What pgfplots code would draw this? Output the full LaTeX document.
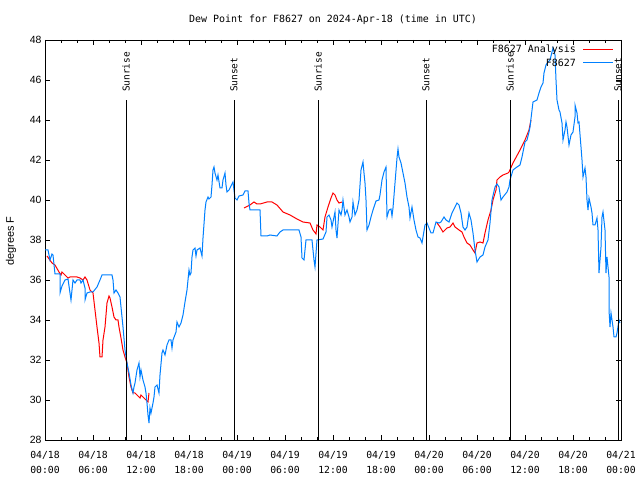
\documentclass[border=0pt]{standalone}
\usepackage{pgfplots}
\pgfplotsset{compat=1.18}
\usepackage{fontspec}
\newfontfamily\monofont{DejaVu Sans Mono}
\newfontfamily\sansfont{Liberation Sans}
\definecolor{obsblue}{RGB}{0,128,255}
\begin{document}
\begin{tikzpicture}
\useasboundingbox (-45bp,-40bp) rectangle (595bp,440bp);
\begin{axis}[
  scale only axis, width=576bp, height=400bp,
  xmin=0, xmax=72, ymin=28, ymax=48,
  xtick={0,6,...,72},
  xticklabels={04/18\\00:00,04/18\\06:00,04/18\\12:00,04/18\\18:00,04/19\\00:00,04/19\\06:00,04/19\\12:00,04/19\\18:00,04/20\\00:00,04/20\\06:00,04/20\\12:00,04/20\\18:00,04/21\\00:00},
  ytick={28,30,...,48},
  minor x tick num=2,
  tick align=inside,
  major tick length=5bp, minor tick length=3bp,
  axis line style={line width=0.8bp},
  tick style={black, line width=0.8bp},
  xticklabel style={align=center, font=\monofont\fontsize{9.8}{14.5}\selectfont, yshift=-8bp},
  yticklabel style={font=\sansfont\fontsize{10.5}{12}\selectfont},
  /pgf/number format/assume math mode=true,
  unbounded coords=jump,
  clip mode=individual,
]
\addplot[red, line width=1bp] coordinates {
(0.25,37.2) (0.875,36.85) (1.25,36.75) (1.75,36.4) (2.0,36.25) (2.125,36.4) (2.5,36.25) (2.875,36.1) (3.125,36.15) (4.0,36.15) (4.375,36.1) (4.75,36.0) (5.0,36.15) (5.25,36.0) (5.625,35.5) (6.0,35.35) (6.25,34.5) (6.5,33.65) (6.75,32.85) (6.875,32.15) (7.125,32.15) (7.25,33.0) (7.5,33.65) (7.75,34.85) (8.0,35.2) (8.125,35.1) (8.375,34.65) (8.625,34.15) (8.875,34.0) (9.125,34.0) (9.25,33.65) (9.5,33.1) (9.75,32.5) (10.0,32.15) (10.25,31.85) (10.5,31.15) (10.75,30.65) (11.0,30.35) (11.25,30.35) (11.5,30.25) (11.75,30.15) (11.875,30.1) (12.0,30.25) (12.25,30.15) (12.625,30.0) (12.875,29.9) (13.0,30.35)
(18.0,nan)
(24.875,39.6) (25.625,39.75) (26.125,39.9) (26.5,39.8) (26.875,39.8) (27.75,39.9) (28.375,39.9) (29.0,39.75) (29.75,39.4) (30.625,39.25) (31.5,39.05) (32.25,38.9) (33.125,38.85) (33.5,38.5) (33.875,38.3) (34.0,38.75) (34.375,38.65) (34.75,38.5) (35.0,39.15) (35.375,39.65) (35.75,40.1) (36.0,40.35) (36.25,40.25) (36.5,40.0) (36.75,39.85) (37.125,39.9)
(42.0,nan)
(49.0,38.85) (49.375,38.65) (49.75,38.4) (50.25,38.6) (50.625,38.65) (51.0,38.85) (51.25,38.65) (51.75,38.5) (52.125,38.4) (52.375,38.15) (52.75,37.85) (53.125,37.75) (53.5,37.5) (53.75,37.35) (54.0,37.85) (54.375,37.9) (54.75,37.85) (55.0,38.35) (55.375,39.0) (55.75,39.5) (56.0,40.0) (56.375,40.5) (56.5,41.0) (56.875,41.15) (57.25,41.25) (57.875,41.35) (58.0,41.4) (58.5,41.85) (59.375,42.5) (60.0,43.0) (60.5,43.5) (60.75,44.0)
};
\addplot[obsblue, line width=1bp] coordinates {
(0,37.5) (0.375,37.5) (0.625,37.0) (0.875,37.3) (1.0,37.25) (1.25,36.3) (1.875,36.3) (1.875,35.35) (2.125,35.7) (2.5,36.0) (2.875,36.05) (3.125,35.35) (3.25,35.0) (3.375,35.5) (3.5,36.0) (3.75,35.85) (4.0,36.0) (4.375,36.0) (4.5,35.85) (4.75,36.0) (5.0,35.6) (5.0,35.0) (5.25,35.35) (5.625,35.4) (6.0,35.4) (6.5,35.65) (6.875,36.0) (7.125,36.25) (7.75,36.25) (8.375,36.25) (8.5,36.0) (8.625,35.35) (8.875,35.5) (9.125,35.35) (9.375,35.15) (9.75,33.65) (10.0,32.5) (10.25,31.85) (10.5,31.35) (10.75,30.75) (11.0,30.35) (11.125,30.65) (11.25,30.85) (11.5,31.5) (11.75,31.85) (11.875,31.15) (12.0,31.5) (12.25,31.0) (12.5,30.65) (12.625,30.35) (12.75,29.85) (12.875,29.25) (13.0,28.85) (13.125,29.6) (13.25,29.35) (13.5,29.85) (13.625,30.15) (13.75,30.65) (14.0,30.75) (14.25,30.35) (14.375,31.25) (14.625,32.35) (14.75,32.5) (15.0,32.25) (15.25,32.75) (15.5,33.0) (15.75,33.0) (15.875,32.6) (16.0,33.0) (16.375,33.4) (16.5,33.9) (16.75,33.65) (17.0,33.85) (17.25,34.25) (17.5,34.9) (17.75,35.5) (18.0,36.5) (18.125,36.25) (18.25,36.35) (18.375,37.15) (18.5,37.5) (18.75,37.6) (18.875,37.2) (19.0,37.5) (19.375,37.6) (19.625,37.2) (19.75,38.1) (20.0,39.5) (20.125,39.9) (20.375,40.15) (20.5,40.05) (20.75,40.15) (20.875,40.75) (21.0,41.5) (21.125,41.65) (21.25,41.35) (21.5,41.0) (21.625,41.25) (21.875,40.6) (22.125,40.6) (22.25,41.0) (22.5,41.35) (22.625,40.75) (22.75,40.4) (23.0,40.5) (23.25,40.7) (23.5,40.9) (23.75,40.1) (24.0,40.0) (24.25,40.2) (24.75,40.25) (25.0,40.45) (25.375,40.45) (25.5,39.85) (25.625,39.5) (26.875,39.5) (27.0,38.2) (27.75,38.2) (28.125,38.25) (29.0,38.2) (29.375,38.4) (29.75,38.5) (31.75,38.5) (32.0,38.15) (32.125,37.1) (32.375,37.0) (32.625,38.0) (33.375,38.0) (33.625,37.0) (33.75,36.65) (34.0,38.0) (34.75,38.05) (35.125,38.4) (35.25,39.15) (35.5,39.25) (35.75,39.0) (35.875,38.65) (36.0,38.9) (36.25,39.4) (36.375,38.5) (36.5,38.1) (36.75,39.5) (37.0,39.25) (37.125,39.5) (37.25,40.0) (37.5,39.25) (37.75,39.5) (38.0,39.15) (38.125,38.9) (38.375,39.15) (38.5,39.9) (38.75,39.25) (39.0,39.5) (39.25,40.0) (39.5,41.5) (39.75,41.9) (39.875,41.35) (40.0,40.85) (40.125,40.0) (40.25,38.5) (40.5,38.75) (40.75,39.15) (41.0,39.5) (41.375,39.95) (41.75,40.0) (41.875,40.25) (42.125,41.0) (42.375,41.4) (42.625,41.65) (42.75,39.15) (43.0,39.5) (43.25,39.55) (43.375,39.2) (43.5,39.6) (43.75,40.85) (44.0,42.1) (44.125,42.55) (44.25,42.15) (44.5,41.85) (44.75,41.35) (45.0,40.85) (45.25,40.15) (45.5,39.65) (45.625,39.1) (45.875,39.65) (46.125,39.0) (46.375,38.5) (46.625,38.15) (46.875,38.1) (47.125,37.85) (47.25,38.15) (47.5,38.75) (47.75,38.85) (48.0,38.6) (48.25,38.35) (48.5,38.35) (48.875,38.9) (49.25,38.85) (49.5,38.9) (49.875,39.15) (50.125,39.0) (50.5,38.9) (50.875,39.35) (51.25,39.65) (51.5,39.85) (51.75,39.75) (52.0,39.35) (52.25,38.65) (52.5,38.5) (52.75,38.65) (53.0,39.35) (53.25,39.0) (53.5,38.35) (53.75,37.5) (54.0,36.9) (54.375,37.15) (54.75,37.25) (55.0,37.65) (55.375,38.0) (55.625,38.85) (55.875,40.0) (56.25,40.65) (56.5,40.8) (56.75,40.65) (57.0,40.0) (57.25,40.15) (57.75,40.4) (58.0,40.65) (58.125,41.0) (58.5,41.5) (59.0,41.65) (59.375,41.75) (59.625,42.15) (60.0,42.9) (60.25,43.0) (60.5,43.4) (60.625,43.65) (61.0,44.9) (61.5,45.0) (61.75,45.35) (62.0,45.65) (62.25,45.85) (62.375,46.35) (62.625,46.75) (62.875,46.9) (63.125,47.0) (63.375,47.4) (63.5,47.6) (63.75,47.25) (63.875,46.0) (64.0,45.0) (64.25,44.5) (64.375,44.4) (64.625,43.85) (64.75,43.0) (65.0,43.5) (65.125,43.9) (65.25,43.65) (65.5,42.75) (65.75,43.25) (66.0,43.4) (66.25,44.15) (66.25,44.75) (66.5,44.35) (66.625,43.85) (66.75,43.9) (67.0,42.65) (67.125,42.0) (67.25,41.15) (67.5,41.6) (67.625,41.15) (67.75,40.0) (67.875,39.5) (68.0,40.1) (68.25,39.65) (68.375,39.35) (68.5,38.75) (68.75,38.75) (69.0,39.1) (69.125,38.5) (69.25,36.35) (69.5,37.65) (69.625,39.15) (69.75,39.4) (70.0,38.5) (70.125,36.35) (70.25,37.15) (70.5,36.15) (70.5,34.5) (70.625,33.65) (70.75,34.35) (71.0,33.65) (71.125,33.15) (71.375,33.15) (71.5,33.35) (71.75,34.0) (71.875,33.85)
};
\addplot[black, line width=1bp] coordinates {
(10.125,28) (10.125,45) (11,nan)
(23.625,28) (23.625,45) (24,nan)
(34.125,28) (34.125,45) (35,nan)
(47.625,28) (47.625,45) (48,nan)
(58.125,28) (58.125,45) (59,nan)
(71.625,28) (71.625,45)
};
\begin{scope}[every node/.style={rotate=90, anchor=west, inner sep=0pt, font=\monofont\fontsize{9.5}{11}\selectfont}]
\node at ([yshift=8bp]axis cs:10.125,45) {Sunrise};
\node at ([yshift=8bp]axis cs:23.625,45) {Sunset};
\node at ([yshift=8bp]axis cs:34.125,45) {Sunrise};
\node at ([yshift=8bp]axis cs:47.625,45) {Sunset};
\node at ([yshift=8bp]axis cs:58.125,45) {Sunrise};
\node at ([yshift=8bp]axis cs:71.625,45) {Sunset};
\end{scope}
\end{axis}
% legend (gnuplot style: key text, then line sample)
\node[anchor=east, inner sep=0pt, font=\monofont\fontsize{10}{12}\selectfont] at (531bp,390bp) {F8627 Analysis};
\draw[red, line width=1bp] (538bp,390bp) -- (568bp,390bp);
\node[anchor=east, inner sep=0pt, font=\monofont\fontsize{10}{12}\selectfont] at (531bp,377bp) {F8627};
\draw[obsblue, line width=1bp] (538bp,377bp) -- (568bp,377bp);
\node[font=\monofont\fontsize{10}{12}\selectfont] at (288bp,420bp) {Dew Point for F8627 on 2024-Apr-18 (time in UTC)};
\node[rotate=90, font=\sansfont\fontsize{11}{12}\selectfont] at (-34bp,199bp) {degrees F};
\end{tikzpicture}
\end{document}
